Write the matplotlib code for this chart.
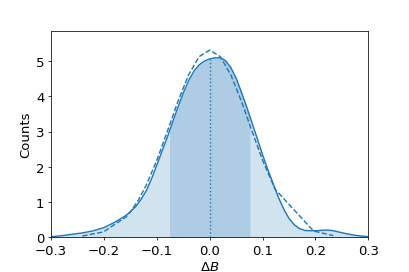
import numpy as np
import matplotlib
matplotlib.use('Agg')
import matplotlib.pyplot as plt

# smooth density curve (solid)
kde_x = [-0.30, -0.28, -0.26, -0.24, -0.22, -0.20, -0.18, -0.16, -0.15, -0.14,
         -0.13, -0.12, -0.11, -0.10, -0.09, -0.08, -0.07, -0.06, -0.05, -0.04,
         -0.03, -0.02, -0.01, 0.00, 0.01, 0.02, 0.03, 0.04, 0.05, 0.06,
         0.07, 0.08, 0.09, 0.10, 0.11, 0.12, 0.13, 0.14, 0.15, 0.16,
         0.17, 0.18, 0.19, 0.20, 0.21, 0.22, 0.23, 0.24, 0.26, 0.28, 0.30]
kde_y = [0.01, 0.04, 0.08, 0.12, 0.18, 0.27, 0.42, 0.60, 0.72, 0.87,
         1.07, 1.32, 1.66, 2.05, 2.45, 2.85, 3.28, 3.70, 4.10, 4.45,
         4.72, 4.90, 5.01, 5.07, 5.10, 5.10, 5.02, 4.82, 4.52, 4.12,
         3.70, 3.25, 2.80, 2.34, 1.92, 1.52, 1.13, 0.80, 0.53, 0.35,
         0.24, 0.19, 0.18, 0.18, 0.19, 0.20, 0.19, 0.16, 0.09, 0.04, 0.01]

# gaussian fit (dashed) at the sample positions
fit_x = [-0.241, -0.201, -0.158, -0.150, -0.135, -0.12, -0.10, -0.08, -0.06, -0.04,
         -0.02, 0.0, 0.02, 0.04, 0.06, 0.08, 0.10, 0.124, 0.1965, 0.234]
fit_y = [0.030, 0.147, 0.578, 0.720, 1.053, 1.479, 2.187, 3.012, 3.863, 4.615,
         5.134, 5.32, 5.134, 4.615, 3.863, 3.012, 2.187, 1.356, 0.172, 0.041]

sigma = 0.076
center = 0.0

kde_x = np.array(kde_x)
kde_y = np.array(kde_y)

fig, ax = plt.subplots(figsize=(6, 4), dpi=68.2)
fig.subplots_adjust(left=0.125, right=0.9, bottom=0.128, top=0.883)

ax.plot(kde_x, kde_y, color='C0', lw=1.5)
ax.fill_between(kde_x, kde_y, color='C0', alpha=0.2, lw=0)

xs = np.linspace(center - sigma, center + sigma, 200)
ax.fill_between(xs, np.interp(xs, kde_x, kde_y), color='C0', alpha=0.2, lw=0)

ax.plot(fit_x, fit_y, color='C0', ls='--', lw=1.5)
ax.vlines(center, 0, np.interp(center, kde_x, kde_y), color='C0', ls=':', lw=1.5)

ax.set_xlim(-0.3, 0.3)
ax.set_ylim(0, 5.86)
ax.set_xticks([-0.3, -0.2, -0.1, 0.0, 0.1, 0.2, 0.3])
ax.tick_params(labelsize=14)
ax.set_xlabel(r'$\Delta B$', fontsize=14)
ax.set_ylabel('Counts', fontsize=14)

fig.savefig('out.png', dpi=68.2)
